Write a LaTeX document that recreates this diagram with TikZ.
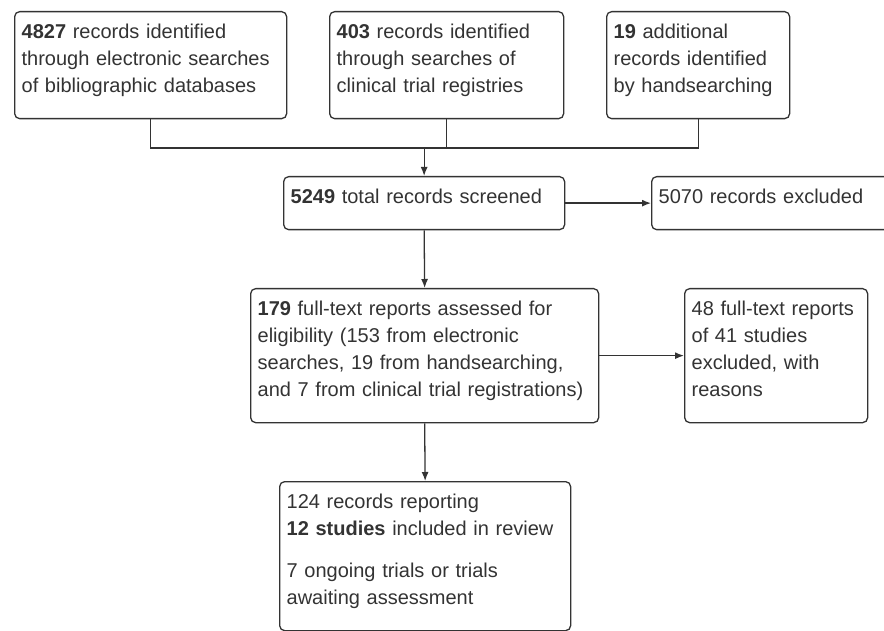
\documentclass[tikz,border=0pt]{standalone}
\usepackage{fontspec}
\setmainfont{Liberation Sans}
\usetikzlibrary{arrows.meta,positioning,calc}
\definecolor{ink}{gray}{0.2}
\newcommand{\boxtop}{\rule{0pt}{27pt}}
\newcommand{\boxbot}{\rule[-26pt]{0pt}{26pt}}

\begin{document}
\begin{tikzpicture}[x=1pt,y=-1pt,>={Latex[length=9pt,width=7pt]},
  bx/.style={draw=ink,line width=1.3pt,rounded corners=5pt,anchor=north west,align=left,
    inner xsep=7pt,inner ysep=0pt,text=ink,font=\fontsize{20pt}{27pt}\selectfont,text width=#1},
  ln/.style={draw=ink,line width=1.3pt}]
\useasboundingbox (0,0) rectangle (884,631);
% sources
\node[bx=258pt] (src1) at (14,11) {\boxtop\textbf{4827} records identified\\through electronic searches\\of bibliographic databases\boxbot};
\node[bx=220pt] (src2) at (329,11) {\boxtop\textbf{403} records identified\\through searches of\\clinical trial registries\boxbot};
\node[bx=169pt] (src3) at (606,11) {\boxtop\textbf{19} additional\\records identified\\by handsearching\boxbot};
% screening
\node[bx=267pt] (screen) at (283,176) {\boxtop\textbf{5249} total records screened\boxbot};
\node[bx=226pt] (excl1) at (651,176) {\boxtop 5070 records excluded\boxbot};
\node[bx=334pt] (full) at (250,288) {\boxtop\textbf{179} full-text reports assessed for\\eligibility (153 from electronic\\searches, 19 from handsearching,\\and 7 from clinical trial registrations)\boxbot};
\node[bx=169pt] (excl2) at (684,288) {\boxtop 48 full-text reports\\of 41 studies\\excluded, with\\reasons\boxbot};
\node[bx=277pt] (incl) at (279,481) {\boxtop 124 records reporting\\\textbf{12 studies} included in review\\[15pt]7 ongoing trials or trials\\awaiting assessment\boxbot};
% connectors
\coordinate (j) at (screen.north|-0,148);
\draw[ln] (src1.south) |- (src3.south|-j) -- (src3.south);
\draw[ln] (src2.south) -- (src2.south|-j);
\draw[ln,->] (j) -- (screen.north);
\draw[ln,->] (screen.east) -- (screen.east-|excl1.west);
\draw[ln,->] (screen.south) -- (full.north);
\draw[ln,->] (full.east) -- (full.east-|excl2.west);
\draw[ln,->] (full.south) -- (incl.north);
\end{tikzpicture}
\end{document}
